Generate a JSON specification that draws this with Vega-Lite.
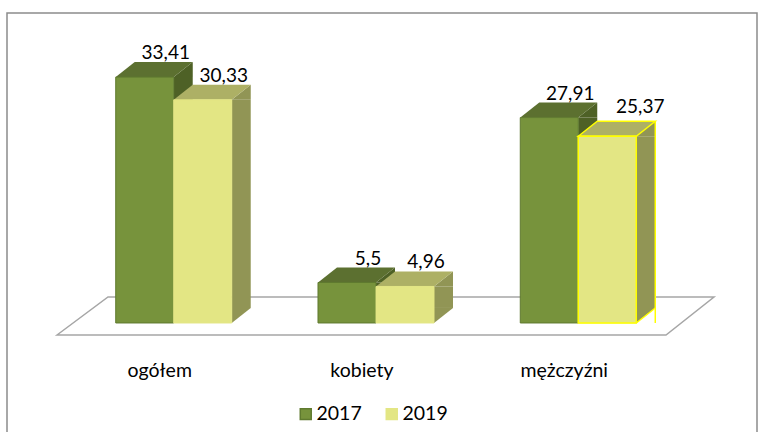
{
"$schema":"https://vega.github.io/schema/vega-lite/v6.json",
"width":750,"height":420,
"padding":{"left":7,"top":13,"right":2,"bottom":0},
"autosize":{"type":"none"},
"background":"white",
"config":{"view":{"stroke":"#8c8c8c","strokeWidth":1.5},"locale":{"number":{"decimal":",","thousands":" ","grouping":[3],"currency":["","zł"]}},"text":{"font":"Lato"}},
"data":{"values":[
{"group":"ogółem","year":"2017","value":33.41},
{"group":"ogółem","year":"2019","value":30.33},
{"group":"kobiety","year":"2017","value":5.5},
{"group":"kobiety","year":"2019","value":4.96},
{"group":"mężczyźni","year":"2017","value":27.91},
{"group":"mężczyźni","year":"2019","value":25.37}
]},
"encoding":{
"x":{"field":"group","type":"nominal","sort":null,"title":null,
"scale":{"domain":["ogółem","kobiety","mężczyźni"],"range":[65.6,672.4],"paddingInner":0.4265,"paddingOuter":0.2132},
"axis":{"orient":"bottom","offset":-72,"domain":false,"ticks":false,"labelAngle":0,"labelFont":"Lato","labelFontSize":19.5,"labelColor":"#000","labelPadding":0,"labelOffset":-14}},
"xOffset":{"field":"year","type":"nominal","scale":{"paddingInner":0,"paddingOuter":0}},
"y":{"field":"value","type":"quantitative","stack":null,"axis":null,"scale":{"domain":[-14.95,42.12],"nice":false,"zero":false}}
},
"layer":[
{"transform":[{"filter":"datum.group=='kobiety' && datum.year=='2017'"}],
 "mark":{"type":"point","shape":"M-319,12 L-268,-26 L338,-26 L290,12 Z","size":4,"filled":true,"fill":"white","stroke":"#a6a6a6","strokeWidth":1.5,"opacity":1},
 "encoding":{"xOffset":{"value":58},"y":{"datum":0}}},
{"transform":[{"filter":"datum.year=='2017'"}],
 "mark":{"type":"bar","width":19,"fill":"#4e6126"},
 "encoding":{"xOffset":{"value":67.5},"y2":{"datum":2.04}}},
{"transform":[{"filter":"datum.year=='2019'"}],
 "mark":{"type":"bar","width":19,"fill":"#919555"},
 "encoding":{"xOffset":{"value":125.5},"y2":{"datum":2.04}}},
{"mark":{"type":"point","shape":"M29,0 L48,-15 L48,0 Z","size":4,"filled":true,"opacity":1},
 "encoding":{"fill":{"condition":{"test":"datum.year=='2017'","value":"#4e6126"},"value":"#919555"}}},
{"mark":{"type":"point","shape":"M29,0 L48,-15 L29,-15 Z","size":4,"filled":true,"opacity":1},
 "encoding":{"y":{"datum":0},"fill":{"condition":{"test":"datum.year=='2017'","value":"#4e6126"},"value":"#919555"}}},
{"mark":{"type":"point","shape":"M-29,0 L29,0 L48,-15 L-10,-15 Z","size":4,"filled":true,"opacity":1},
 "encoding":{"fill":{"condition":{"test":"datum.year=='2017'","value":"#5c7030"},"value":"#adb065"}}},
{"mark":{"type":"bar","strokeWidth":1},
 "encoding":{
 "fill":{"field":"year","type":"nominal","title":null,"scale":{"domain":["2017","2019"],"range":["#77933c","#e3e684"]},
  "legend":{"orient":"none","legendX":289,"legendY":391,"direction":"horizontal","symbolType":"square","symbolSize":120,"labelFont":"Lato","labelFontSize":19.5,"labelColor":"#000","columns":2,"columnPadding":20,"symbolStrokeWidth":1.5,"labelOffset":1}},
 "stroke":{"field":"year","type":"nominal","title":null,"scale":{"domain":["2017","2019"],"range":["#5f7a2f","#e3e684"]}}}},
{"transform":[{"filter":"datum.group=='mężczyźni' && datum.year=='2019'"}],
 "layer":[
 {"mark":{"type":"point","shape":"M-29,0 L-10,-15 L48,-15 L29,0 Z","size":4,"filled":false,"stroke":"#ffff00","strokeWidth":1.5,"opacity":1}},
 {"mark":{"type":"bar","width":1.5,"yOffset":-15,"fill":"#ffff00"},"encoding":{"xOffset":{"value":135}}},
 {"mark":{"type":"point","shape":"M29,0 L48,-15","size":4,"filled":false,"stroke":"#ffff00","strokeWidth":1.5,"opacity":1},"encoding":{"y":{"datum":0}}},
 {"mark":{"type":"bar","fill":"#e3e684","stroke":"#ffff00","strokeWidth":1.5}}
 ]},
{"transform":[{"filter":"!(datum.group=='mężczyźni' && datum.year=='2019')"}],
 "mark":{"type":"text","font":"Lato","fontSize":19,"color":"#000","baseline":"alphabetic","dx":21,"dy":-18},
 "encoding":{"text":{"field":"value","type":"quantitative","format":".2~f"}}},
{"transform":[{"filter":"datum.group=='mężczyźni' && datum.year=='2019'"}],
 "mark":{"type":"text","font":"Lato","fontSize":19,"color":"#000","baseline":"alphabetic","dx":33,"dy":-23},
 "encoding":{"text":{"field":"value","type":"quantitative","format":".2~f"}}}
]
}
